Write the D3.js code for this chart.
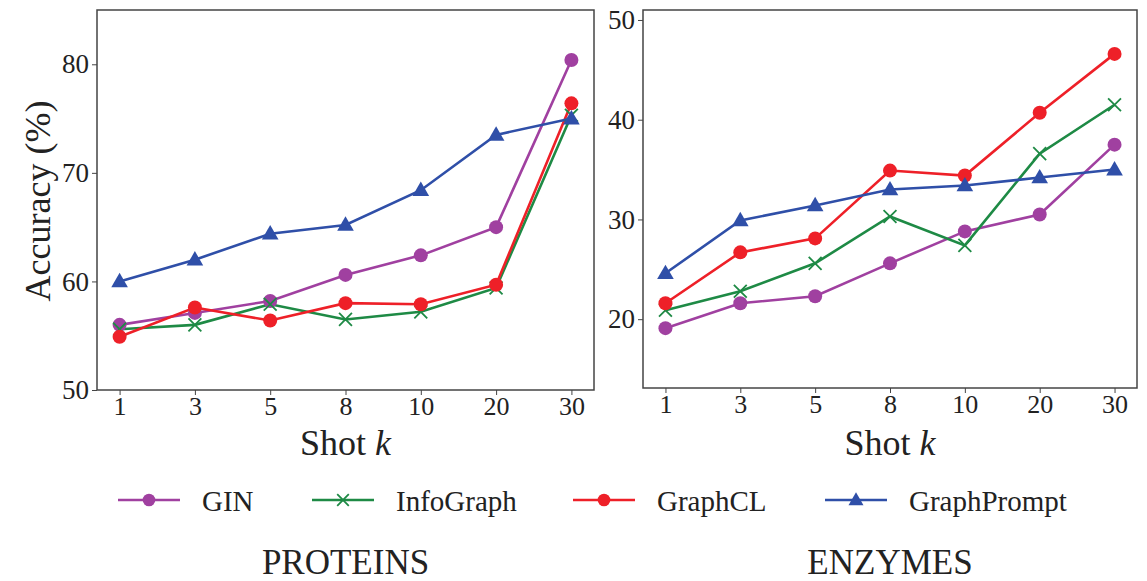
<!DOCTYPE html>
<html>
<head>
<meta charset="utf-8">
<script src="https://cdn.jsdelivr.net/npm/d3@7"></script>
<style>
body { margin: 0; background: #fff; }
text { font-family: "Liberation Serif", "Times New Roman", serif; fill: #222; }
</style>
</head>
<body>
<script>
var shots = ["1", "3", "5", "8", "10", "20", "30"];
var methods = ["GIN", "InfoGraph", "GraphCL", "GraphPrompt"];
var colors = ["#a040a0", "#1e8a45", "#ee2028", "#2f4fa8"];
var markers = ["circle", "cross", "circle", "triangle"];

var proteinsGIN = [56.0, 57.1, 58.2, 60.6, 62.4, 65.0, 80.4];
var proteinsInfoGraph = [55.6, 56.0, 57.9, 56.5, 57.2, 59.4, 75.3];
var proteinsGraphCL = [54.9, 57.6, 56.4, 58.0, 57.9, 59.7, 76.4];
var proteinsGraphPrompt = [60.0, 62.0, 64.4, 65.2, 68.4, 73.5, 75.0];

var enzymesGIN = [19.1, 21.6, 22.3, 25.6, 28.8, 30.5, 37.5];
var enzymesInfoGraph = [20.9, 22.8, 25.6, 30.3, 27.4, 36.6, 41.5];
var enzymesGraphCL = [21.6, 26.7, 28.1, 34.9, 34.4, 40.7, 46.6];
var enzymesGraphPrompt = [24.6, 29.9, 31.4, 33.0, 33.4, 34.2, 35.0];

var proteinsTicks = [50, 60, 70, 80];
var enzymesTicks = [20, 30, 40, 50];

var svg = d3.select("body").append("svg").attr("width", 1147).attr("height", 581);

function drawPanel(opt) {
  var g = svg.append("g");
  var x = d3.scalePoint().domain(shots).range([opt.left, opt.right]).padding(0.3);
  var y = d3.scaleLinear().domain(opt.domain).range([opt.bottom, opt.top]);

  g.append("rect")
    .attr("x", opt.left).attr("y", opt.top)
    .attr("width", opt.right - opt.left).attr("height", opt.bottom - opt.top)
    .attr("fill", "none").attr("stroke", "#444").attr("stroke-width", 1.5);

  var xa = g.append("g").attr("transform", "translate(0," + opt.bottom + ")")
    .call(d3.axisBottom(x).tickSize(5).tickPadding(2));
  xa.select(".domain").remove();
  xa.selectAll("line").attr("stroke", "#444");
  xa.selectAll("text").style("font-size", "26px").attr("fill", "#222");

  var ya = g.append("g").attr("transform", "translate(" + opt.left + ",0)")
    .call(d3.axisLeft(y).tickValues(opt.ticks).tickSize(5).tickPadding(3));
  ya.select(".domain").remove();
  ya.selectAll("line").attr("stroke", "#444");
  ya.selectAll("text").style("font-size", "27px").attr("fill", "#222");

  var xl = g.append("text").attr("x", (opt.left + opt.right) / 2).attr("y", 455)
    .attr("text-anchor", "middle").style("font-size", "36px");
  xl.append("tspan").text("Shot ");
  xl.append("tspan").style("font-style", "italic").text("k");

  g.append("text").attr("x", (opt.left + opt.right) / 2).attr("y", 574)
    .attr("text-anchor", "middle").style("font-size", "35px").text(opt.title);

  var line = d3.line().x(function(d, i) { return x(shots[i]); }).y(function(d) { return y(d); });

  opt.series.forEach(function(vals, s) {
    g.append("path").datum(vals).attr("d", line)
      .attr("fill", "none").attr("stroke", colors[s]).attr("stroke-width", 2.6);
  });
  opt.series.forEach(function(vals, s) {
    drawMarkers(g, vals.map(function(v, i) { return [x(shots[i]), y(v)]; }), s, 1);
  });
}

function drawMarkers(g, pts, s, k) {
  var m = markers[s];
  if (m === "circle") {
    g.selectAll(null).data(pts).enter().append("circle")
      .attr("cx", function(d) { return d[0]; }).attr("cy", function(d) { return d[1]; })
      .attr("r", 7 * k).attr("fill", colors[s]);
  } else if (m === "triangle") {
    var sym = d3.symbol().type(d3.symbolTriangle).size(120 * k * k);
    g.selectAll(null).data(pts).enter().append("path")
      .attr("d", sym).attr("transform", function(d) { return "translate(" + d[0] + "," + (d[1] + 1) + ")"; })
      .attr("fill", colors[s]);
  } else {
    var sym2 = d3.symbol().type(d3.symbolX).size(110 * k * k);
    g.selectAll(null).data(pts).enter().append("path")
      .attr("d", sym2).attr("transform", function(d) { return "translate(" + d[0] + "," + d[1] + ")"; })
      .attr("fill", "none").attr("stroke", colors[s]).attr("stroke-width", 1.8);
  }
}

drawPanel({
  left: 97, right: 594, top: 10, bottom: 390, domain: [50, 85], ticks: proteinsTicks,
  title: "PROTEINS",
  series: [proteinsGIN, proteinsInfoGraph, proteinsGraphCL, proteinsGraphPrompt]
});
drawPanel({
  left: 643, right: 1137, top: 10, bottom: 388, domain: [13.1, 51], ticks: enzymesTicks,
  title: "ENZYMES",
  series: [enzymesGIN, enzymesInfoGraph, enzymesGraphCL, enzymesGraphPrompt]
});

svg.append("text").attr("transform", "translate(50,201) rotate(-90)")
  .attr("text-anchor", "middle").style("font-size", "36px").text("Accuracy (%)");

// legend
var legendX = [118, 312, 573, 825];
var legend = svg.append("g");
methods.forEach(function(name, s) {
  var lx = legendX[s], ly = 500;
  legend.append("line").attr("x1", lx).attr("x2", lx + 62).attr("y1", ly).attr("y2", ly)
    .attr("stroke", colors[s]).attr("stroke-width", 2.6);
  drawMarkers(legend, [[lx + 31, ly]], s, 0.9);
  legend.append("text").attr("x", lx + 84).attr("y", ly + 11)
    .style("font-size", "29px").text(name);
});
</script>
</body>
</html>
